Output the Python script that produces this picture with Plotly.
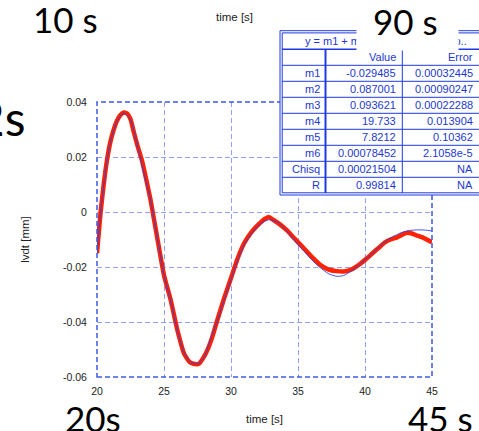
import plotly.graph_objects as go

# ---------------- data ----------------
t_data = [20.0, 20.25, 20.5, 20.75, 21.0, 21.25, 21.5, 21.75, 22.0, 22.25, 22.5, 22.75,
          23.0, 23.35, 23.6, 24.0, 24.5, 25.0, 25.5, 26.0, 26.5, 26.9, 27.2, 27.6, 28.0,
          28.3, 28.6, 29.0, 29.5, 30.0, 30.5, 31.0, 31.5, 32.0, 32.5, 32.8, 33.2, 33.65,
          34.2, 34.65, 35.3, 35.9, 36.6, 37.0, 37.4, 37.9, 38.4, 38.8, 39.1, 39.6, 40.1,
          40.6, 41.1, 41.5, 41.9, 42.4, 43.1, 43.5, 43.9, 44.4, 45.0]
lvdt_data = [-0.0150, -0.0010, 0.0100, 0.0190, 0.0255, 0.0300, 0.0333, 0.0353, 0.0362, 0.0358,
             0.0338, 0.0290, 0.0245, 0.0188, 0.0135, 0.0043, -0.0095, -0.0230, -0.0320, -0.0430,
             -0.0515, -0.0545, -0.0552, -0.0552, -0.0525, -0.0495, -0.0455, -0.0390, -0.0312,
             -0.0240, -0.0168, -0.0112, -0.0075, -0.0048, -0.0026, -0.0018, -0.0030, -0.0045,
             -0.0068, -0.0092, -0.0125, -0.0157, -0.0190, -0.0203, -0.0211, -0.0215, -0.0216,
             -0.0212, -0.0206, -0.0190, -0.0170, -0.0148, -0.0127, -0.0110, -0.0100, -0.0092,
             -0.0076, -0.0078, -0.0086, -0.0095, -0.0110]

t_fit = [20.0, 20.25, 20.5, 20.75, 21.0, 21.5, 22.0, 22.5, 23.0, 23.5, 24.0, 24.5, 25.0, 25.5,
         26.0, 26.5, 27.0, 27.3, 27.6, 28.0, 28.5, 29.0, 29.5, 30.0, 30.5, 31.0, 31.5, 32.0,
         32.5, 32.9, 33.5, 34.0, 34.5, 35.0, 35.5, 36.0, 36.6, 37.3, 37.9, 38.4, 39.0, 39.5,
         40.1, 40.6, 41.1, 41.6, 42.0, 42.7, 43.35, 44.0, 44.5, 45.0]
lvdt_fit = [-0.0150, -0.0012, 0.0098, 0.0188, 0.0253, 0.0332, 0.0360, 0.0337, 0.0245, 0.0140,
            0.0043, -0.0095, -0.0230, -0.0322, -0.0432, -0.0512, -0.0548, -0.0552, -0.0550,
            -0.0527, -0.0458, -0.0393, -0.0318, -0.0245, -0.0175, -0.0118, -0.0080, -0.0052,
            -0.0034, -0.0028, -0.0038, -0.0060, -0.0088, -0.0118, -0.0145, -0.0172, -0.0200,
            -0.0225, -0.0234, -0.0231, -0.0214, -0.0195, -0.0170, -0.0148, -0.0125, -0.0105,
            -0.0092, -0.0075, -0.0067, -0.0065, -0.0066, -0.0069]

x_tickvals = [20, 25, 30, 35, 40, 45]
x_ticktext = ["20", "25", "30", "35", "40", "45"]
y_tickvals = [-0.06, -0.04, -0.02, 0, 0.02, 0.04]
y_ticktext = ["-0.06", "-0.04", "-0.02", "0", "0.02", "0.04"]

fit_equation = "y = m1 + m2*sin(m3*x+m4)*exp.."
table_head = ["", "Value", "Error"]
param_names = ["m1", "m2", "m3", "m4", "m5", "m6", "Chisq", "R"]
param_values = ["-0.029485", "0.087001", "0.093621", "19.733", "7.8212",
                "0.00078452", "0.00021504", "0.99814"]
param_errors = ["0.00032445", "0.00090247", "0.00022288", "0.013904", "0.10362",
                "2.1058e-5", "NA", "NA"]

# ---------------- layout geometry ----------------
W, H = 479, 431
L, R, T, B = 97, 47, 102, 54
PW, PH = W - L - R, H - T - B


def px(x):
    return (x - L) / PW


def py(y):
    return 1 - (y - T) / PH


AX_FONT = "Liberation Sans, Arial, sans-serif"
BIG_FONT = "Lato, Open Sans, sans-serif"
TBL = "#1f3ae0"
TBL_TXT = "#2338d0"
GRID = "#93a2f2"
FRAME = "#3d58e6"

fig = go.Figure()
fig.add_trace(go.Scatter(x=t_data, y=lvdt_data, mode="lines",
                         line=dict(color="#ff2200", width=4.5, shape="spline", smoothing=0.5),
                         showlegend=False, hoverinfo="skip"))
fig.add_trace(go.Scatter(x=t_fit, y=lvdt_fit, mode="lines",
                         line=dict(color="rgba(50,65,225,0.9)", width=1, shape="spline", smoothing=0.6),
                         showlegend=False, hoverinfo="skip"))

shapes = []
# plot frame (dashed)
shapes.append(dict(type="rect", xref="paper", yref="paper", x0=0, x1=1, y0=0, y1=1,
                   line=dict(color=FRAME, width=1.5, dash="5px,3px"), layer="above"))


def hline(y, x0, x1, w=1):
    shapes.append(dict(type="line", xref="paper", yref="paper", x0=px(x0), x1=px(x1),
                       y0=py(y), y1=py(y), line=dict(color=TBL, width=w), layer="above"))


def vline(x, y0, y1, w=1):
    shapes.append(dict(type="line", xref="paper", yref="paper", x0=px(x), x1=px(x),
                       y0=py(y0), y1=py(y1), line=dict(color=TBL, width=w), layer="above"))


# table background
shapes.append(dict(type="rect", xref="paper", yref="paper", x0=px(280), x1=px(481),
                   y0=py(195), y1=py(30.7), fillcolor="white", line=dict(width=0), layer="above"))
# double outer border
for off in (0, 2.2):
    hline(30.7 + off, 280 + off, 481)
    hline(195 - off, 280 + off, 481)
    vline(280 + off, 30.7 + off, 195 - off)
ROW0 = 49.3
RH = 16
hline(ROW0, 282, 481, 1.5)
for i in range(1, 9):
    hline(ROW0 + RH * i, 282, 481)
vline(325.5, ROW0, 193, 2)
vline(402.3, ROW0, 193, 1)

anns = []


def txt(x, y, s, size=11, color=TBL_TXT, xa="right", font=AX_FONT, ya="middle", angle=0):
    anns.append(dict(x=px(x), y=py(y), xref="paper", yref="paper", text=s, showarrow=False,
                     xanchor=xa, yanchor=ya, textangle=angle,
                     font=dict(family=font, size=size, color=color)))


# table text
txt(303, 41, fit_equation, xa="left")
rows = [table_head] + [[n, v, e] for n, v, e in zip(param_names, param_values, param_errors)]
for i, (a, b, c) in enumerate(rows):
    yc = ROW0 + RH * i + 8
    if a:
        txt(322, yc, a)
    txt(398, yc, b)
    txt(475, yc, c)

# white box covering part of the table header, then overlay labels
anns.append(dict(x=px(356), y=py(0), xref="paper", yref="paper", text=" ", showarrow=False,
                 xanchor="left", yanchor="top", width=101, height=49, bgcolor="white",
                 borderpad=0, font=dict(size=4)))
txt(405, 20.8, "90 s", size=35, color="black", xa="center", font=BIG_FONT)
txt(65.5, 19.5, "10 s", size=35, color="black", xa="center", font=BIG_FONT)
txt(27, 117.5, "12s", size=48, color="black", xa="right", font=BIG_FONT)
txt(93, 418, "20s", size=35, color="black", xa="center", font=BIG_FONT)
txt(440.5, 418, "45 s", size=35, color="black", xa="center", font=BIG_FONT)
txt(234.5, 16.7, "time [s]", size=11.5, color="#222222", xa="center")

fig.update_layout(
    width=W, height=H, autosize=False,
    margin=dict(l=L, r=R, t=T, b=B, pad=0, autoexpand=False),
    paper_bgcolor="white", plot_bgcolor="white",
    shapes=shapes, annotations=anns,
    xaxis=dict(range=[20, 45], tickvals=x_tickvals, ticktext=x_ticktext,
               showgrid=True, gridcolor=GRID, gridwidth=1, griddash="5px,3px",
               zeroline=False, showline=False, ticks="outside", ticklen=4,
               tickcolor="rgba(0,0,0,0)", automargin=False,
               tickfont=dict(family=AX_FONT, size=10.5, color="#222222"),
               title=dict(text="time [s]", standoff=19,
                          font=dict(family=AX_FONT, size=11.5, color="#222222"))),
    yaxis=dict(range=[-0.06, 0.04], tickvals=y_tickvals, ticktext=y_ticktext,
               showgrid=True, gridcolor=GRID, gridwidth=1, griddash="5px,3px",
               zeroline=False, showline=False, ticks="outside", ticklen=7,
               tickcolor="rgba(0,0,0,0)", automargin=False,
               tickfont=dict(family=AX_FONT, size=10.5, color="#222222"),
               title=dict(text="lvdt [mm]", standoff=30,
                          font=dict(family=AX_FONT, size=11.5, color="#222222"))),
)

fig.write_html("out.html")
